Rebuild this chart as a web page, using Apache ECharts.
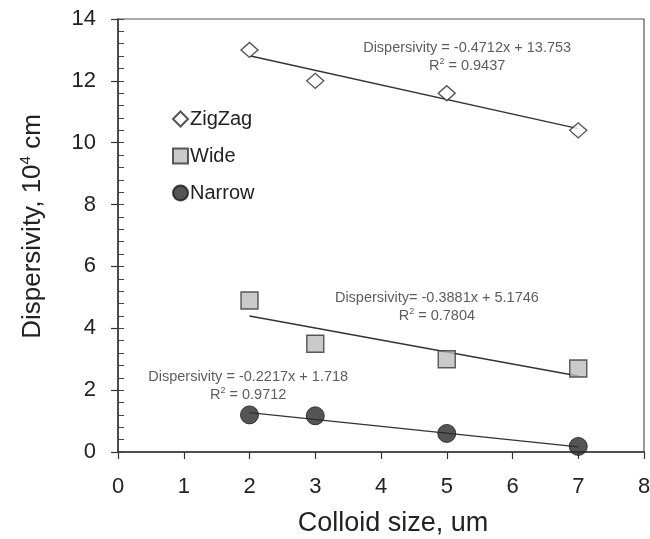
<!DOCTYPE html>
<html><head><meta charset="utf-8">
<script src="https://cdn.jsdelivr.net/npm/echarts@6/dist/echarts.min.js"></script>
<style>html,body{margin:0;padding:0;background:#fff}#c{width:650px;height:539px}</style>
</head><body><div id="c"></div>
<script>
// ---- data ----
const colloidSize = [2, 3, 5, 7];
const zigzag = [13.0, 12.0, 11.6, 10.4];
const wide = [4.9, 3.5, 3.0, 2.7];
const narrow = [1.2, 1.17, 0.6, 0.18];
const seriesNames = ['ZigZag', 'Wide', 'Narrow'];
const fitSlope = [-0.4712, -0.3881, -0.2217];
const fitIntercept = [13.753, 5.1746, 1.718];
const fitR2 = ['0.9437', '0.7804', '0.9712'];
const fitEquations = ['Dispersivity = -0.4712x + 13.753', 'Dispersivity= -0.3881x + 5.1746', 'Dispersivity = -0.2217x + 1.718'];
const xTicks = [0, 1, 2, 3, 4, 5, 6, 7, 8];
const yTicks = [0, 2, 4, 6, 8, 10, 12, 14];

const font = 'Liberation Sans, Arial, sans-serif';
const ink = '#2a2a2a';
const values = [zigzag, wide, narrow];
const pairs = v => colloidSize.map((x, i) => [x, v[i]]);
const fitLine = i => [colloidSize[0], colloidSize[colloidSize.length - 1]].map(x => [x, fitSlope[i] * x + fitIntercept[i]]);

const markerStyles = [
  { symbol: 'diamond', symbolSize: [17, 15], itemStyle: { color: '#fff', borderColor: ink, borderWidth: 1.4 } },
  { symbol: 'rect', symbolSize: 17, itemStyle: { color: '#bdbdbd', borderColor: '#333', borderWidth: 1.4 } },
  { symbol: 'circle', symbolSize: 18, itemStyle: { color: '#2b2b2b', borderColor: '#1a1a1a', borderWidth: 1 } }
];
// annotation anchors in data units (x, y of label centre)
const eqAnchors = [[5.31, 12.77], [4.85, 4.69], [1.98, 2.13]];

const series = [];
seriesNames.forEach((name, i) => {
  series.push({
    type: 'line', data: fitLine(i), showSymbol: false, silent: true, z: 1,
    lineStyle: { color: '#333', width: 1.4 }, animation: false
  });
});
seriesNames.forEach((name, i) => {
  series.push(Object.assign({
    name: name, type: 'scatter', data: pairs(values[i]), z: 3, animation: false
  }, markerStyles[i]));
});
series.push({
  type: 'scatter', symbolSize: 0, silent: true, animation: false,
  data: eqAnchors.map((p, i) => ({
    value: p,
    label: {
      show: true, position: 'inside', align: 'center', verticalAlign: 'middle',
      formatter: fitEquations[i] + '\n{n|R}{s|2}{n| = ' + fitR2[i] + '}',
      fontFamily: font, fontSize: 14.5, color: '#333', lineHeight: 18,
      rich: {
        n: { fontFamily: font, fontSize: 14.5, color: '#333', lineHeight: 18 },
        s: { fontFamily: font, fontSize: 9, color: '#333', lineHeight: 18, verticalAlign: 'top', padding: [0, 0, 7, 0] }
      }
    }
  }))
});

const chart = echarts.init(document.getElementById('c'), null, { renderer: 'canvas' });
chart.setOption({
  animation: false,
  backgroundColor: '#fff',
  grid: { left: 118, right: 6, top: 19, bottom: 87, show: true, borderColor: '#555', borderWidth: 1.2, outerBoundsMode: 'none', containLabel: false },
  legend: {
    data: seriesNames, orient: 'vertical', left: 167, top: 104,
    itemWidth: 15, itemHeight: 15, itemGap: 17,
    textStyle: { fontFamily: font, fontSize: 20, color: '#222', padding: [0, 0, 0, -3] }
  },
  xAxis: {
    type: 'value', min: xTicks[0], max: xTicks[xTicks.length - 1], interval: 1,
    name: 'Colloid size, um', nameLocation: 'middle', nameGap: 58,
    nameTextStyle: { fontFamily: font, fontSize: 27, color: '#222', padding: [0, 0, 0, 24] },
    axisLine: { show: true, lineStyle: { color: '#333', width: 1.5 } },
    axisTick: { show: true, length: 7, lineStyle: { color: '#333', width: 1.2 } },
    axisLabel: { fontFamily: font, fontSize: 22, color: '#222', margin: 24 },
    splitLine: { show: false }
  },
  yAxis: [{
    type: 'value', min: yTicks[0], max: yTicks[yTicks.length - 1], interval: 2,
    name: '{n|Dispersivity, 10}{s|4}{n| cm}', nameLocation: 'middle', nameGap: 70, nameRotate: 90,
    nameTextStyle: {
      fontFamily: font, fontSize: 26, color: '#222', padding: [0, 0, 0, 18],
      rich: {
        n: { fontFamily: font, fontSize: 26, color: '#222', lineHeight: 30 },
        s: { fontFamily: font, fontSize: 15, color: '#222', lineHeight: 30, verticalAlign: 'top', padding: [0, 0, 12, 0] }
      }
    },
    axisLine: { show: true, lineStyle: { color: '#333', width: 1.5 } },
    axisTick: { show: true, length: 7, lineStyle: { color: '#333', width: 1.2 } },
    axisLabel: { fontFamily: font, fontSize: 22, color: '#222', margin: 22 },
    splitLine: { show: false }
  }, {
    type: 'value', min: 0, max: 14, interval: 0.4, position: 'left',
    axisLine: { show: false },
    axisTick: { show: true, inside: true, length: 6, lineStyle: { color: '#444', width: 1 } },
    axisLabel: { show: false },
    splitLine: { show: false }
  }],
  series: series
});
</script>
</body></html>
